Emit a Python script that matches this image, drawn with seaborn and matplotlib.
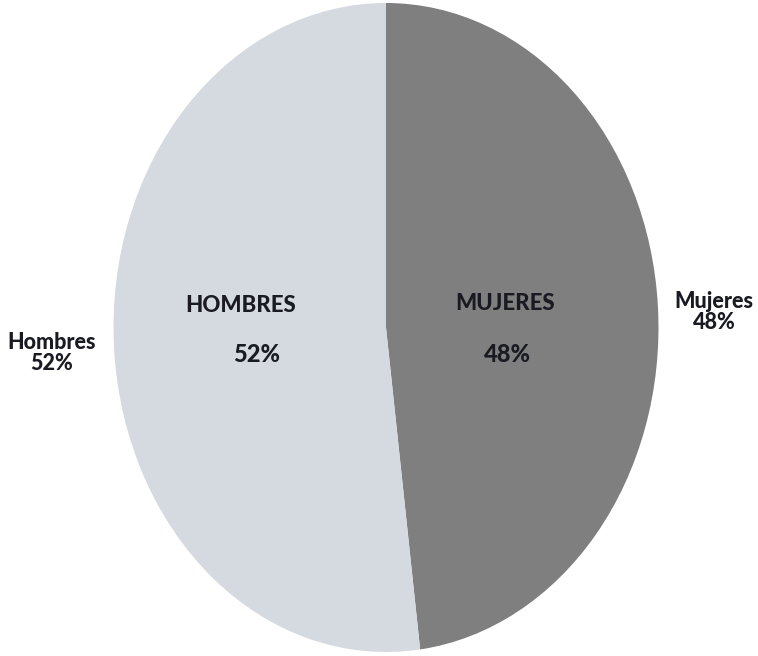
import matplotlib
matplotlib.use("Agg")
import matplotlib.pyplot as plt
import seaborn as sns

sns.set_theme(style="white")
plt.rcParams['font.family'] = ['Lato', 'DejaVu Sans']

# Data
categories = ["Mujeres", "Hombres"]
inner_names = ["MUJERES", "HOMBRES"]
values = [48, 52]
colors = ["#7f7f7f", "#d5d9e0"]

W, H = 758, 656
fig = plt.figure(figsize=(W / 100, H / 100), dpi=100)
ax = fig.add_axes([0, 0, 1, 1])

cx, cy, a, b = 386, 327.5, 272.5, 324.5

def px(x, y):
    return (x - cx) / a, (cy - y) / b

ax.pie(values, colors=colors, startangle=90, counterclock=False,
       radius=1, wedgeprops=dict(linewidth=0))
ax.set_aspect('auto')
ax.set_xlim((0 - cx) / a, (W - cx) / a)
ax.set_ylim((cy - H) / b, cy / b)
ax.axis('off')

txt = "#1a1a22"
# inner labels
for name, val, (x1, y1), (x2, y2) in [
    (inner_names[0], values[0], (505, 304), (507, 354)),
    (inner_names[1], values[1], (241, 305), (257, 354)),
]:
    ax.text(*px(x1, y1), name, ha='center', va='center', fontsize=16,
            fontweight='black', color=txt)
    ax.text(*px(x2, y2), f"{val}%", ha='center', va='center', fontsize=17,
            fontweight='black', color=txt)

# outer labels
ax.text(*px(714, 312), f"{categories[0]}\n{values[0]}%", ha='center', va='center',
        fontsize=15.5, fontweight='black', color=txt, linespacing=1.05)
ax.text(*px(52, 353), f"{categories[1]}\n{values[1]}%", ha='center', va='center',
        fontsize=15.5, fontweight='black', color=txt, linespacing=1.05)

fig.savefig("out.png", dpi=100, facecolor="white")
